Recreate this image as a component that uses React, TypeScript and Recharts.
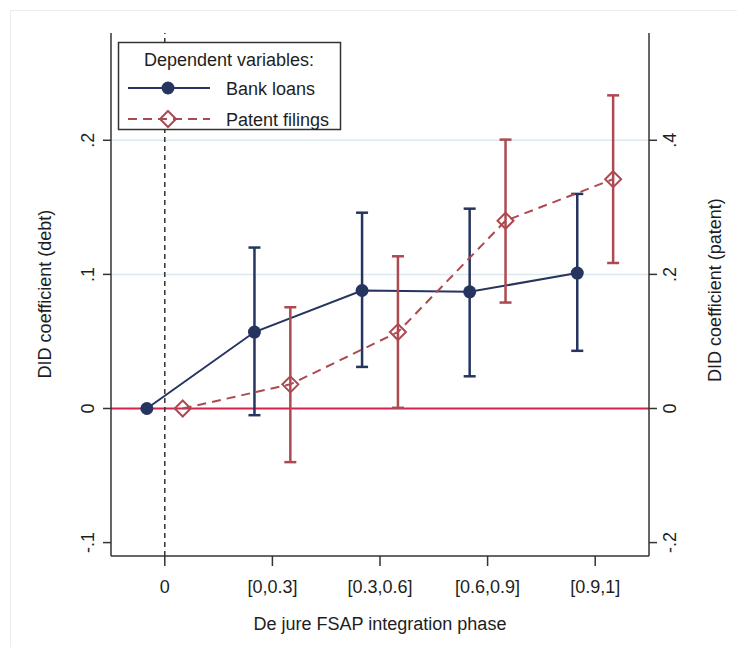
import React from 'react';
import { ComposedChart, Line, XAxis, YAxis, ErrorBar, ReferenceLine } from 'recharts';

const categories = ['0', '[0,0.3]', '[0.3,0.6]', '[0.6,0.9]', '[0.9,1]'];

const bankCoef = [0, 0.057, 0.088, 0.087, 0.101];
const bankLow = [null, -0.005, 0.031, 0.024, 0.043];
const bankHigh = [null, 0.120, 0.146, 0.149, 0.160];

const patentCoef = [0, 0.036, 0.114, 0.280, 0.342];
const patentLow = [null, -0.080, 0.001, 0.158, 0.217];
const patentHigh = [null, 0.151, 0.227, 0.401, 0.467];

const debtTicks = [-0.1, 0, 0.1, 0.2];
const patentTicks = [-0.2, 0, 0.2, 0.4];

const NAVY = '#26355f';
const CRAN = '#ad4a51';
const FONT = '"Liberation Sans", Arial, sans-serif';
const DODGE = 1 / 6;

const build = (coef: number[], low: (number | null)[], high: (number | null)[], shift: number) =>
  coef.map((y, i) => ({
    x: i + shift,
    y,
    err: low[i] == null ? undefined : [y - (low[i] as number), (high[i] as number) - y],
  }));

const bankData = build(bankCoef, bankLow, bankHigh, -DODGE);
const patentData = build(patentCoef, patentLow, patentHigh, DODGE);

const fmt = (v: number) => {
  if (v === 0) return '0';
  const s = String(Math.round(v * 10) / 10);
  return s.replace('0.', '.');
};

const XTick = (props: any) => {
  const { x, payload } = props;
  return (
    <text x={x} y={593} textAnchor="middle" fontSize={18} fill="#1e1e1e" fontFamily={FONT}>
      {categories[payload.value]}
    </text>
  );
};

const LeftTick = (props: any) => {
  const { y, payload } = props;
  return (
    <text x={94} y={y} transform={`rotate(-90 94 ${y})`} textAnchor="middle" fontSize={18} fill="#1e1e1e" fontFamily={FONT}>
      {fmt(payload.value)}
    </text>
  );
};

const RightTick = (props: any) => {
  const { y, payload } = props;
  return (
    <text x={676} y={y} transform={`rotate(-90 676 ${y})`} textAnchor="middle" fontSize={18} fill="#1e1e1e" fontFamily={FONT}>
      {fmt(payload.value)}
    </text>
  );
};

const Diamond = ({ cx, cy, s = 8 }: { cx: number; cy: number; s?: number }) => (
  <path
    d={`M${cx},${cy - s} L${cx + s},${cy} L${cx},${cy + s} L${cx - s},${cy} Z`}
    fill="none"
    stroke={CRAN}
    strokeWidth={2}
  />
);

export default function App() {
  return (
    <div style={{ position: 'absolute', left: 0, top: 0, width: 737, height: 647, background: '#fff' }}>
      <div
        style={{
          position: 'absolute', left: 10, top: 10, right: 0, bottom: 0,
          borderTop: '1px solid #ececec', borderLeft: '1px solid #ececec',
        }}
      />
      <ComposedChart width={737} height={647} margin={{ top: 33, right: 0, bottom: 0, left: 0 }}>
        <XAxis
          type="number"
          dataKey="x"
          domain={[-0.5, 4.5]}
          ticks={[0, 1, 2, 3, 4]}
          interval={0}
          allowDataOverflow
          height={91}
          tick={<XTick />}
          tickSize={10}
          tickLine={{ stroke: '#333', strokeWidth: 1.5 }}
          axisLine={{ stroke: '#333', strokeWidth: 1.5 }}
          label={() => (
            <text x={380} y={630} textAnchor="middle" fontSize={18} fill="#1e1e1e" fontFamily={FONT}>
              De jure FSAP integration phase
            </text>
          )}
        />
        <YAxis
          yAxisId="left"
          orientation="left"
          width={111}
          domain={[-0.11, 0.28]}
          ticks={debtTicks}
          interval={0}
          allowDataOverflow
          tick={<LeftTick />}
          tickSize={8}
          tickLine={{ stroke: '#333', strokeWidth: 1.5 }}
          axisLine={{ stroke: '#333', strokeWidth: 1.5 }}
          label={() => (
            <text x={51} y={294} transform="rotate(-90 51 294)" textAnchor="middle" fontSize={18} fill="#1e1e1e" fontFamily={FONT}>
              DID coefficient (debt)
            </text>
          )}
        />
        <YAxis
          yAxisId="right"
          orientation="right"
          width={88}
          domain={[-0.22, 0.56]}
          ticks={patentTicks}
          interval={0}
          allowDataOverflow
          tick={<RightTick />}
          tickSize={8}
          tickLine={{ stroke: '#333', strokeWidth: 1.5 }}
          axisLine={{ stroke: '#333', strokeWidth: 1.5 }}
          label={() => (
            <text x={721} y={290} transform="rotate(-90 721 290)" textAnchor="middle" fontSize={18} fill="#1e1e1e" fontFamily={FONT}>
              DID coefficient (patent)
            </text>
          )}
        />
        <ReferenceLine yAxisId="left" y={0.1} stroke="#dce9ee" strokeWidth={1.5} />
        <ReferenceLine yAxisId="left" y={0.2} stroke="#dce9ee" strokeWidth={1.5} />
        <ReferenceLine yAxisId="left" y={0} stroke="#d4234c" strokeWidth={2} />
        <ReferenceLine yAxisId="left" x={0} stroke="#333" strokeWidth={1.5} strokeDasharray="5 4" />
        <Line
          yAxisId="left"
          data={bankData}
          dataKey="y"
          stroke={NAVY}
          strokeWidth={2}
          isAnimationActive={false}
          dot={(p: any) => <circle key={`b${p.index}`} cx={p.cx} cy={p.cy} r={6.5} fill={NAVY} />}
        >
          <ErrorBar dataKey="err" direction="y" width={6} stroke={NAVY} strokeWidth={2.5} />
        </Line>
        <Line
          yAxisId="right"
          data={patentData}
          dataKey="y"
          stroke={CRAN}
          strokeWidth={2}
          strokeDasharray="9 6"
          isAnimationActive={false}
          dot={(p: any) => <Diamond key={`p${p.index}`} cx={p.cx} cy={p.cy} />}
        >
          <ErrorBar dataKey="err" direction="y" width={6} stroke={CRAN} strokeWidth={2.5} />
        </Line>
      </ComposedChart>
      <svg width={737} height={647} style={{ position: 'absolute', left: 0, top: 0, pointerEvents: 'none' }}>
        <rect x={118.5} y={42.5} width={222} height={87} fill="#fff" stroke="#333" strokeWidth={1.5} />
        <text x={229} y={66} textAnchor="middle" fontSize={18} fill="#1e1e1e" fontFamily={FONT}>
          Dependent variables:
        </text>
        <line x1={128} y1={88} x2={210} y2={88} stroke={NAVY} strokeWidth={2} />
        <circle cx={168} cy={88} r={6.5} fill={NAVY} />
        <text x={226} y={94.5} fontSize={18} fill="#1e1e1e" fontFamily={FONT}>
          Bank loans
        </text>
        <line x1={128} y1={119} x2={210} y2={119} stroke={CRAN} strokeWidth={2} strokeDasharray="9 6" />
        <Diamond cx={168} cy={119} />
        <text x={226} y={125.5} fontSize={18} fill="#1e1e1e" fontFamily={FONT}>
          Patent filings
        </text>
      </svg>
    </div>
  );
}
